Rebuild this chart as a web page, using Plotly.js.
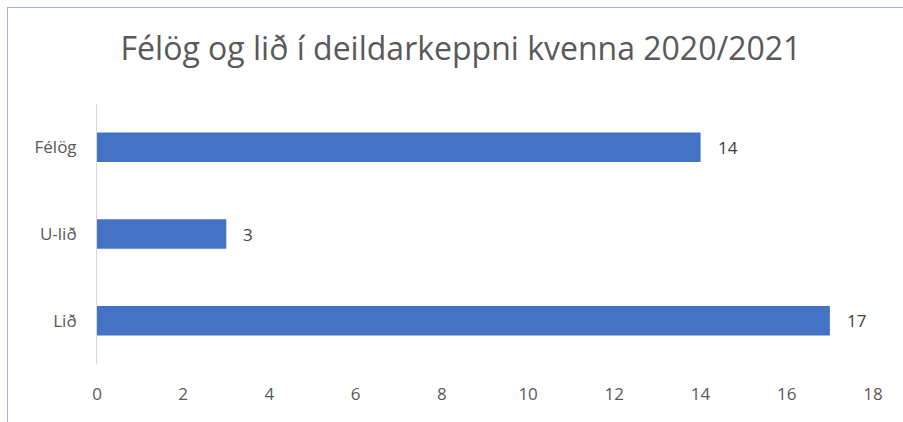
<!DOCTYPE html>
<html>
<head>
<meta charset="utf-8">
<script src="https://cdn.plot.ly/plotly-3.0.1.min.js"></script>
<style>
  html, body { margin: 0; padding: 0; background: #fff; }
  #wrap { position: relative; width: 903px; height: 422px; overflow: hidden; }
  #frame { position: absolute; left: 7px; top: 7px; width: 910px; height: 430px;
           border-left: 1px solid #9db4e0; border-top: 1px solid #9db4e0; pointer-events: none; }
  #chart { position: absolute; left: 0; top: 0; width: 903px; height: 422px; }
</style>
</head>
<body>
<div id="wrap">
  <div id="chart"></div>
  <div id="frame"></div>
</div>
<script>
const chartTitle = "Félög og lið í deildarkeppni kvenna 2020/2021";
const categories = ["Lið", "U-lið", "Félög"];
const values = [17, 3, 14];
const xTicks = [0, 2, 4, 6, 8, 10, 12, 14, 16, 18];

const font = "Open Sans, Liberation Sans, sans-serif";

const labelAnnotations = categories.map((c, i) => ({
  x: values[i], y: c, xref: "x", yref: "y",
  text: String(values[i]),
  showarrow: false, xanchor: "left", yanchor: "middle",
  xshift: 15,
  font: { family: font, size: 17, color: "#404040" }
}));

Plotly.newPlot("chart", [{
  type: "bar",
  orientation: "h",
  y: categories,
  x: values,
  marker: { color: "#4472c4" },
  width: 0.34,
  hoverinfo: "none"
}], {
  width: 903,
  height: 422,
  margin: { l: 97, r: 30, t: 104, b: 58 },
  paper_bgcolor: "rgba(0,0,0,0)",
  plot_bgcolor: "rgba(0,0,0,0)",
  showlegend: false,
  title: {
    text: chartTitle,
    font: { family: font, size: 32, color: "#595959" },
    x: 0.5105, xanchor: "center",
    y: 0.885, yanchor: "middle"
  },
  annotations: labelAnnotations,
  xaxis: {
    range: [0, 18],
    tickvals: xTicks,
    ticktext: xTicks.map(String),
    showgrid: false,
    zeroline: false,
    showline: false,
    ticks: "",
    ticklabelstandoff: 18,
    tickfont: { family: font, size: 17, color: "#595959" },
    fixedrange: true
  },
  yaxis: {
    type: "category",
    categoryorder: "array",
    categoryarray: categories,
    range: [-0.5, 2.5],
    showgrid: false,
    zeroline: false,
    showline: true,
    linecolor: "#d9d9d9",
    linewidth: 1,
    ticks: "",
    ticklabelstandoff: 16,
    tickfont: { family: font, size: 17, color: "#595959" },
    fixedrange: true
  }
}, { displayModeBar: false, staticPlot: true });
</script>
</body>
</html>
